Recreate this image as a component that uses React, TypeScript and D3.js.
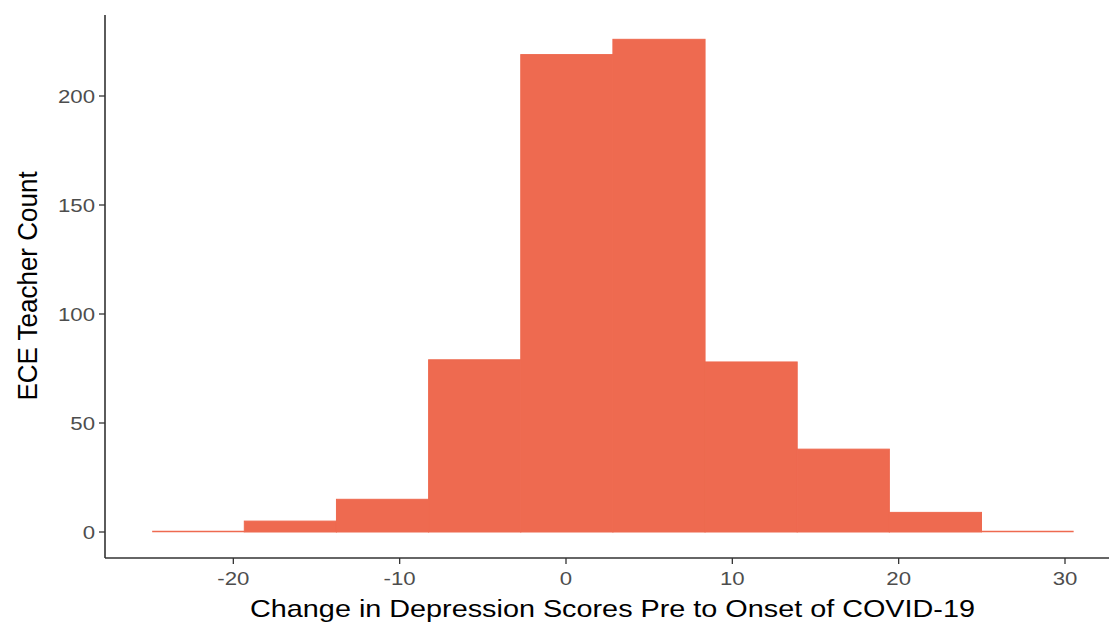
import React from "react";
import * as d3 from "d3";

const binEdges = [-24.88, -19.34, -13.8, -8.26, -2.72, 2.82, 8.36, 13.9, 19.44, 24.98, 30.52];
const binCounts = [0, 5, 15, 79, 219, 226, 78, 38, 9, 0];
const xTicks = [-20, -10, 0, 10, 20, 30];
const yTicks = [0, 50, 100, 150, 200];
const xTitle = "Change in Depression Scores Pre to Onset of COVID-19";
const yTitle = "ECE Teacher Count";

const W = 1109;
const H = 626;
const FILL = "#EE6A50";
const SX = 1.17;

export default function App() {
  const x = d3.scaleLinear().domain([0, 30]).range([566, 1065]);
  const y = d3.scaleLinear().domain([0, 200]).range([532, 96]);
  const panelLeft = 105;
  const panelBottom = 558;
  const panelTop = 15;
  const bins = binCounts.map((c, i) => ({ x0: binEdges[i], x1: binEdges[i + 1], c }));
  return (
    <div style={{ position: "absolute", left: 0, top: 0 }}>
      <svg width={W} height={H} style={{ display: "block", background: "#fff" }}>
        <g>
          {bins.map((b, i) =>
            b.c > 0 ? (
              <rect
                key={i}
                x={x(b.x0)}
                y={y(b.c)}
                width={x(b.x1) - x(b.x0)}
                height={y(0) - y(b.c)}
                fill={FILL}
                stroke={FILL}
                strokeWidth={1}
              />
            ) : (
              <line
                key={i}
                x1={x(b.x0)}
                x2={x(b.x1)}
                y1={y(0) - 0.5}
                y2={y(0) - 0.5}
                stroke={FILL}
                strokeWidth={1.6}
              />
            )
          )}
        </g>
        <line x1={panelLeft} x2={panelLeft} y1={panelTop} y2={panelBottom} stroke="#333" strokeWidth={1.6} />
        <line x1={panelLeft} x2={W} y1={panelBottom} y2={panelBottom} stroke="#333" strokeWidth={1.6} />
        {yTicks.map((t) => (
          <g key={"y" + t}>
            <line x1={panelLeft - 6} x2={panelLeft} y1={y(t)} y2={y(t)} stroke="#333" strokeWidth={1.3} />
            <text
              transform={`translate(${panelLeft - 10},${y(t)}) scale(${SX},1)`}
              textAnchor="end"
              dominantBaseline="central"
              fontFamily="Liberation Sans, Arial, sans-serif"
              fontSize={19}
              fill="#4d4d4d"
            >
              {t}
            </text>
          </g>
        ))}
        {xTicks.map((t) => (
          <g key={"x" + t}>
            <line x1={x(t)} x2={x(t)} y1={panelBottom} y2={panelBottom + 6} stroke="#333" strokeWidth={1.3} />
            <text
              transform={`translate(${x(t)},${panelBottom + 27}) scale(${SX},1)`}
              textAnchor="middle"
              fontFamily="Liberation Sans, Arial, sans-serif"
              fontSize={19}
              fill="#4d4d4d"
            >
              {t}
            </text>
          </g>
        ))}
        <text
          transform={`translate(${(panelLeft + 1120) / 2},${617}) scale(1.2,1)`}
          textAnchor="middle"
          fontFamily="Liberation Sans, Arial, sans-serif"
          fontSize={24}
          fill="#000"
        >
          {xTitle}
        </text>
        <text
          transform={`translate(${37},${286}) rotate(-90) scale(1,1.08)`}
          textAnchor="middle"
          fontFamily="Liberation Sans, Arial, sans-serif"
          fontSize={26}
          fill="#000"
        >
          {yTitle}
        </text>
      </svg>
    </div>
  );
}
